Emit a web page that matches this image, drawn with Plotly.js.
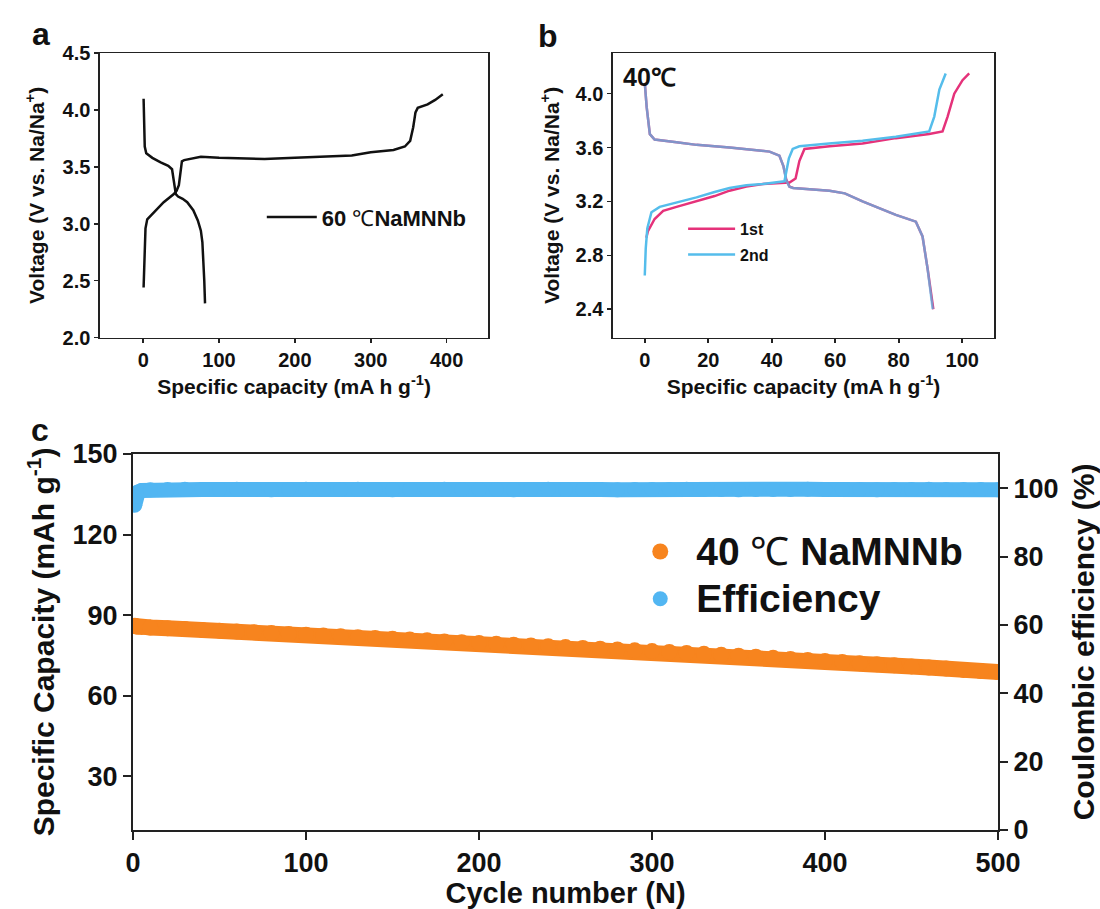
<!DOCTYPE html>
<html><head><meta charset="utf-8">
<script src="https://cdn.plot.ly/plotly-3.0.1.min.js"></script>
<style>html,body{margin:0;padding:0;background:#fff}</style>
</head><body>
<div id="chart" style="width:1100px;height:909px"></div>
<script>
// ---------- Panel a : 60 ℃ NaMNNb charge / discharge ----------
const aChargeCap = [0.5, 1.2, 1.8, 3, 5.3, 14, 27, 40, 44, 47, 49, 51, 54, 66, 76, 100, 130, 160, 200, 250, 275, 300, 330, 345, 352, 356, 359, 362, 375, 385, 395];
const aChargeVolt = [2.44, 2.62, 2.79, 2.96, 3.04, 3.10, 3.19, 3.26, 3.29, 3.34, 3.47, 3.55, 3.56, 3.58, 3.59, 3.58, 3.575, 3.57, 3.58, 3.59, 3.60, 3.63, 3.65, 3.68, 3.73, 3.85, 3.98, 4.02, 4.05, 4.09, 4.14];
const aDisCap = [0.5, 1.0, 2.0, 4, 12, 23, 33, 38, 40, 41.5, 43, 46, 52, 58, 66, 72, 76, 78, 79.5, 80.5, 81.5];
const aDisVolt = [4.10, 3.85, 3.68, 3.62, 3.58, 3.54, 3.51, 3.48, 3.40, 3.32, 3.26, 3.24, 3.22, 3.19, 3.12, 3.03, 2.94, 2.84, 2.68, 2.50, 2.30];

// ---------- Panel b : 40 ℃, 1st and 2nd cycle ----------
const b1ChargeCap = [0.5, 1.0, 3.1, 5.8, 10, 16.3, 22, 26.7, 32, 37.2, 45.6, 47.5, 48.7, 50.3, 58.2, 68.6, 79.1, 89.6, 93.8, 95.4, 97.5, 100.1, 102.2];
const b1ChargeVolt = [2.93, 2.98, 3.07, 3.13, 3.16, 3.20, 3.24, 3.28, 3.31, 3.33, 3.34, 3.37, 3.50, 3.59, 3.61, 3.63, 3.67, 3.70, 3.72, 3.83, 4.00, 4.10, 4.15];
const b1DisCap = [0, 0.6, 1.6, 3.1, 10, 16.3, 26.7, 35, 39.3, 42.4, 43.7, 44.6, 45.6, 46.8, 58.2, 63, 68.6, 75, 79.1, 85.4, 87.5, 89.1, 90.9];
const b1DisVolt = [4.08, 3.90, 3.70, 3.66, 3.64, 3.62, 3.60, 3.58, 3.57, 3.54, 3.46, 3.36, 3.31, 3.30, 3.28, 3.26, 3.20, 3.14, 3.10, 3.05, 2.94, 2.70, 2.40];
const b2ChargeCap = [0, 0.3, 0.8, 2.1, 4.7, 10, 16.3, 22, 26.7, 32, 37.2, 44, 44.8, 45.4, 46.6, 48.7, 58, 68.6, 79.1, 89.6, 91.2, 92.8, 94.8];
const b2ChargeVolt = [2.65, 2.85, 3.00, 3.12, 3.16, 3.19, 3.23, 3.27, 3.30, 3.32, 3.33, 3.35, 3.45, 3.52, 3.59, 3.61, 3.63, 3.65, 3.68, 3.72, 3.83, 4.03, 4.15];
const b2DisCap = [0, 0.6, 1.6, 3.1, 10, 16.3, 26.7, 35, 39.3, 42.4, 43.7, 44.5, 45.5, 46.6, 58.2, 63, 68.6, 75, 79.1, 85.4, 87.5, 89.1, 90.7];
const b2DisVolt = [4.08, 3.90, 3.70, 3.66, 3.64, 3.62, 3.60, 3.58, 3.57, 3.54, 3.46, 3.36, 3.31, 3.30, 3.28, 3.26, 3.20, 3.14, 3.10, 3.05, 2.94, 2.70, 2.40];

// ---------- Panel c : cycling at 40 ℃ ----------
const cycles = [1, 2, 3, 5, 10, 20, 30, 40, 50, 60, 70, 80, 90, 100, 110, 120, 130, 140, 150, 160, 170, 180, 190, 200, 210, 220, 230, 240, 250, 260, 270, 280, 290, 300, 310, 320, 330, 340, 350, 360, 370, 380, 390, 400, 410, 420, 430, 440, 450, 460, 470, 480, 490, 500];
const capacity = [86.0, 85.8, 85.7, 85.6, 85.4, 85.1, 84.8, 84.5, 84.2, 83.9, 83.6, 83.3, 83.0, 82.7, 82.4, 82.1, 81.8, 81.5, 81.2, 80.9, 80.6, 80.2, 79.9, 79.6, 79.3, 79.0, 78.7, 78.4, 78.1, 77.8, 77.5, 77.2, 76.9, 76.6, 76.3, 75.9, 75.6, 75.2, 74.9, 74.5, 74.1, 73.7, 73.3, 72.9, 72.5, 72.1, 71.7, 71.3, 70.9, 70.5, 70.1, 69.6, 69.2, 68.8];
const efficiency = [95.0, 97.6, 98.9, 99.3, 99.5, 99.6, 99.7, 99.6, 99.6, 99.7, 99.6, 99.5, 99.6, 99.7, 99.6, 99.6, 99.7, 99.6, 99.5, 99.6, 99.6, 99.7, 99.6, 99.6, 99.6, 99.5, 99.6, 99.7, 99.6, 99.6, 99.6, 99.5, 99.6, 99.6, 99.6, 99.7, 99.6, 99.6, 99.5, 99.6, 99.6, 99.6, 99.7, 99.6, 99.6, 99.6, 99.5, 99.6, 99.6, 99.7, 99.6, 99.6, 99.6, 99.5];

// tick labels
const aXTicks = [0, 100, 200, 300, 400];
const aYTicks = [2.0, 2.5, 3.0, 3.5, 4.0, 4.5];
const bXTicks = [0, 20, 40, 60, 80, 100];
const bYTicks = [2.4, 2.8, 3.2, 3.6, 4.0];
const cXTicks = [0, 100, 200, 300, 400, 500];
const cYTicks = [30, 60, 90, 120, 150];
const cY2Ticks = [0, 20, 40, 60, 80, 100];

const F = 'Liberation Sans, Arial, Helvetica, sans-serif';
const PINK = '#E5327A', BLUE = '#55BDEB', ORANGE = '#F7841E', CBLUE = '#52B6F2';
const BIGLEG = s => '<span style="font-size:39px">' + s + '</span>';

const traces = [
  {x: aChargeCap, y: aChargeVolt, xaxis: 'x', yaxis: 'y', mode: 'lines', name: '<b>60 </b>℃<b>NaMNNb</b>',
   line: {color: '#111', width: 2.5}, legend: 'legend', legendgroup: 'a'},
  {x: aDisCap, y: aDisVolt, xaxis: 'x', yaxis: 'y', mode: 'lines', showlegend: false,
   line: {color: '#111', width: 2.5}, legendgroup: 'a'},

  {x: b1ChargeCap, y: b1ChargeVolt, xaxis: 'x2', yaxis: 'y2', mode: 'lines', name: '<b>1st</b>',
   line: {color: PINK, width: 2.5}, legend: 'legend2', legendgroup: 'b1'},
  {x: b1DisCap, y: b1DisVolt, xaxis: 'x2', yaxis: 'y2', mode: 'lines', showlegend: false,
   line: {color: PINK, width: 2.5}, legend: 'legend2', legendgroup: 'b1'},
  {x: b2ChargeCap, y: b2ChargeVolt, xaxis: 'x2', yaxis: 'y2', mode: 'lines', name: '<b>2nd</b>',
   line: {color: BLUE, width: 2.5}, legend: 'legend2', legendgroup: 'b2'},
  {x: b2DisCap, y: b2DisVolt, xaxis: 'x2', yaxis: 'y2', mode: 'lines', showlegend: false, opacity: 0.7,
   line: {color: BLUE, width: 2.5}, legend: 'legend2', legendgroup: 'b2'},

  {x: cycles, y: capacity, xaxis: 'x3', yaxis: 'y3', mode: 'lines', showlegend: false,
   line: {color: ORANGE, width: 16}, legend: 'legend3', legendgroup: 'c1'},
  {x: cycles, y: capacity, xaxis: 'x3', yaxis: 'y3', mode: 'markers', name: BIGLEG('<b>40 </b>℃<b> NaMNNb</b>'),
   marker: {color: ORANGE, size: 16}, legend: 'legend3', legendgroup: 'c1'},
  {x: cycles, y: efficiency, xaxis: 'x3', yaxis: 'y4', mode: 'lines', showlegend: false,
   line: {color: CBLUE, width: 15}, legend: 'legend3', legendgroup: 'c2'},
  {x: cycles, y: efficiency, xaxis: 'x3', yaxis: 'y4', mode: 'markers', name: BIGLEG('<b>Efficiency</b>'),
   marker: {color: CBLUE, size: 15}, legend: 'legend3', legendgroup: 'c2'}
];

function ax(extra) {
  return Object.assign({
    showline: true, linecolor: '#222', linewidth: 1.6, mirror: true,
    ticks: 'outside', ticklen: 4, tickwidth: 1.6, tickcolor: '#222',
    showgrid: false, zeroline: false, automargin: false,
    tickfont: {family: F, size: 20, weight: 'bold', color: '#111'}
  }, extra);
}
const titleFont = {family: F, size: 21, weight: 'bold', color: '#111'};
const bigTick = {family: F, size: 27, weight: 'bold', color: '#111'};
const bigTitle = {family: F, size: 29, weight: 'bold', color: '#111'};

const layout = {
  width: 1100, height: 909,
  margin: {l: 0, r: 0, t: 0, b: 0},
  paper_bgcolor: '#fff', plot_bgcolor: '#fff',
  showlegend: true,
  xaxis: ax({domain: [0.0909, 0.4439], range: [-57, 455], tickvals: aXTicks, anchor: 'y',
    title: {text: 'Specific capacity (mA h g<sup>-1</sup>)', font: titleFont, standoff: 9}}),
  yaxis: ax({domain: [0.6287, 0.9414], range: [2.0, 4.5], tickvals: aYTicks, tickformat: '.1f', anchor: 'x',
    title: {text: 'Voltage (V vs. Na/Na<sup>+</sup>)', font: titleFont, standoff: 12}}),
  xaxis2: ax({domain: [0.5573, 0.9036], range: [-10, 110], tickvals: bXTicks, anchor: 'y2',
    title: {text: 'Specific capacity (mA h g<sup>-1</sup>)', font: titleFont, standoff: 9}}),
  yaxis2: ax({domain: [0.6287, 0.9414], range: [2.19, 4.30], tickvals: bYTicks, tickformat: '.1f', anchor: 'x2',
    title: {text: 'Voltage (V vs. Na/Na<sup>+</sup>)', font: titleFont, standoff: 10}}),
  xaxis3: ax({domain: [0.1209, 0.9073], range: [0, 500], tickvals: cXTicks, anchor: 'y3',
    linewidth: 2, tickwidth: 2, ticklen: 8, tickfont: bigTick,
    title: {text: 'Cycle number (N)', font: bigTitle, standoff: 6}}),
  yaxis3: ax({domain: [0.0869, 0.5006], range: [10, 150], tickvals: cYTicks, anchor: 'x3', mirror: false,
    linewidth: 2, tickwidth: 2, ticklen: 8, tickfont: bigTick,
    title: {text: 'Specific Capacity (mAh g<sup>-1</sup>)', font: {family: F, size: 30, weight: 'bold', color: '#111'}, standoff: 9}}),
  yaxis4: ax({domain: [0.0869, 0.5006], range: [0, 110], tickvals: cY2Ticks, anchor: 'x3', overlaying: 'y3', side: 'right', mirror: false,
    linewidth: 2, tickwidth: 2, ticklen: 8, tickfont: bigTick,
    title: {text: 'Coulombic efficiency (%)', font: {family: F, size: 30, weight: 'bold', color: '#111'}, standoff: 16}}),
  legend: {x: 0.238, y: 0.761, xanchor: 'left', yanchor: 'middle', bgcolor: 'rgba(0,0,0,0)', itemwidth: 50,
    font: {family: F, size: 22, color: '#111'}},
  legend2: {x: 0.621, y: 0.734, xanchor: 'left', yanchor: 'middle', bgcolor: 'rgba(0,0,0,0)', itemwidth: 47,
    font: {family: F, size: 16, color: '#111'}, tracegroupgap: 2},
  legend3: {x: 0.5675, y: 0.367, xanchor: 'left', yanchor: 'middle', bgcolor: 'rgba(0,0,0,0)', itemwidth: 62,
    font: {family: F, size: 34, color: '#111'}, tracegroupgap: 0},
  annotations: [
    {text: '<b>a</b>', x: 41, y: 34, xref: 'paper', yref: 'paper', showarrow: false, font: {family: F, size: 32, color: '#111'}},
    {text: '<b>b</b>', x: 548, y: 36, xref: 'paper', yref: 'paper', showarrow: false, font: {family: F, size: 32, color: '#111'}},
    {text: '<b>c</b>', x: 40, y: 430, xref: 'paper', yref: 'paper', showarrow: false, font: {family: F, size: 32, color: '#111'}},
    {text: '<b>40℃</b>', x: 649, y: 77, xref: 'paper', yref: 'paper', showarrow: false, font: {family: F, size: 25, color: '#111'}}
  ].map(a => Object.assign(a, {x: a.x / 1100, y: 1 - a.y / 909, xanchor: 'center', yanchor: 'middle'}))
};

Plotly.newPlot('chart', traces, layout, {displayModeBar: false, staticPlot: true});
</script>
</body></html>
